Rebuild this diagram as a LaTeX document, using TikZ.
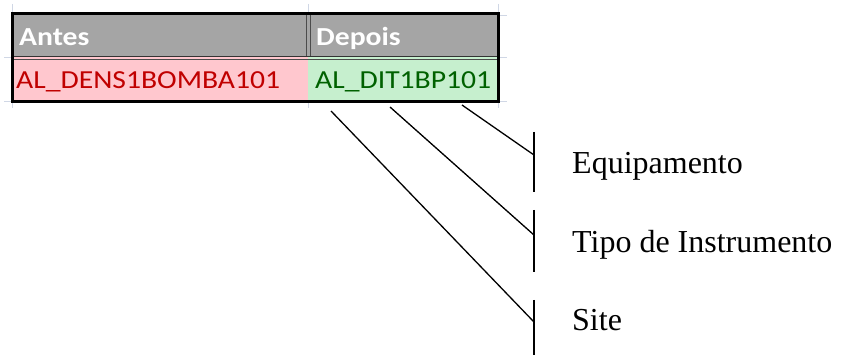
\documentclass[tikz,border=0pt]{standalone}
\usepackage{fontspec}
\setmainfont{Liberation Serif}
\newfontfamily\cellfont[FakeStretch=1.14]{Carlito}

\definecolor{hdrgray}{HTML}{A5A5A5}
\definecolor{badfill}{HTML}{FFC7CE}
\definecolor{badtext}{HTML}{C00000}
\definecolor{goodfill}{HTML}{C6EFCE}
\definecolor{goodtext}{HTML}{006100}
\definecolor{gridline}{HTML}{D0D7E5}

\tikzset{
  cell/.style={inner sep=0pt, anchor=base west, font=\cellfont\fontsize{26}{30}\selectfont},
  hdr/.style={cell, text=white, font=\cellfont\bfseries\fontsize{26}{30}\selectfont},
  part/.style={inner sep=0pt, anchor=base west, font=\fontsize{32}{38}\selectfont},
  pointer/.style={line width=1.3pt},
  bracket/.style={line width=1.5pt}
}

\begin{document}
\begin{tikzpicture}[x=1pt,y=-1pt]
  \useasboundingbox (0,0) rectangle (841,355);

  % spreadsheet grid stubs
  \foreach \gx in {12,308,498} {
    \draw[gridline, line width=1pt] (\gx,4) -- (\gx,14);
    \draw[gridline, line width=1pt] (\gx,102) -- (\gx,108);
  }
  \foreach \gy in {58,102} \draw[gridline, line width=1pt] (4,\gy) -- (12,\gy);
  \foreach \gy in {16,58,102} \draw[gridline, line width=1pt] (498,\gy) -- (507,\gy);

  % cells
  \fill[hdrgray] (12,14) rectangle (498,57);
  \fill[badfill] (12,57) rectangle (308,102);
  \fill[goodfill] (308,57) rectangle (498,102);
  \draw[line width=1.5pt, black!80] (12,56.5) -- (498,56.5);
  \draw[line width=1pt, black!70] (12,60) -- (498,60);
  \draw[line width=1.2pt, black!70] (306.5,14) -- (306.5,56.5);
  \draw[line width=1.2pt, black!70] (310.5,14) -- (310.5,56.5);
  \draw[line width=3pt] (12,14) rectangle (498,102);

  \node[hdr] (antes) at (19,46) {Antes};
  \node[hdr] (depois) at (316,46) {Depois};
  \node[cell, text=badtext] (old) at (16,89) {AL\_DENS1BOMBA101};
  \node[cell, text=goodtext] (new) at (315,89) {AL\_DIT1BP101};

  % brackets for the parts of the new tag
  \draw[bracket] (534,132) -- (534,192);
  \draw[bracket] (534,210) -- (534,272);
  \draw[bracket] (534,300) -- (534,355);

  \coordinate (eqstart) at (462,105);
  \coordinate (tpstart) at (390,107);
  \coordinate (ststart) at (331,111);
  \coordinate (eqend) at (534,155);
  \coordinate (tpend) at (534,235);
  \coordinate (stend) at (534,322);

  \draw[pointer] (eqstart) -- (eqend);
  \draw[pointer] (tpstart) -- (tpend);
  \draw[pointer] (ststart) -- (stend);

  \node[part] (equip) at (572,174) {Equipamento};
  \node[part] (tipo) at (572,253) {Tipo de Instrumento};
  \node[part] (site) at (572,331) {Site};
\end{tikzpicture}
\end{document}
